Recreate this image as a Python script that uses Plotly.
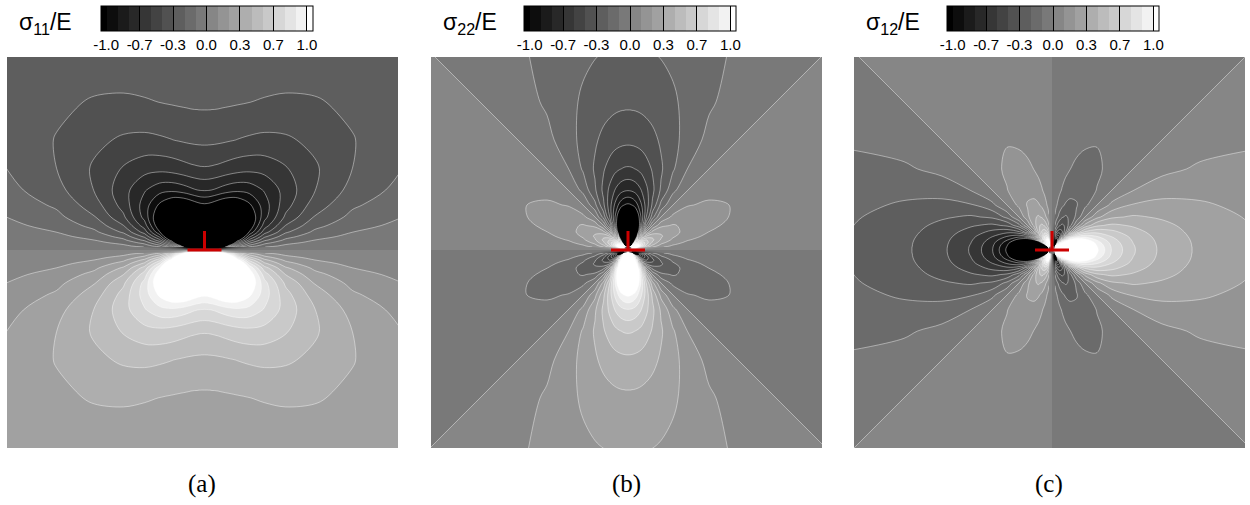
import plotly.graph_objects as go

# Node offsets from the dislocation (image-scale units), estimated spacing
grid_offsets = [0, 3, 4, 5.5, 7.5, 10, 13.5, 18, 24.5, 33, 45, 60, 81, 110, 148, 200]

# Hand-estimated stress values for the upper-right quadrant (top row y=200 ... last row y=0)
sigma11_quadrant = [
 [-.230,-.230,-.230,-.230,-.230,-.231,-.231,-.232,-.233,-.236,-.240,-.246,-.253,-.259,-.254,-.230],
 [-.311,-.311,-.311,-.311,-.312,-.312,-.313,-.316,-.319,-.324,-.332,-.342,-.350,-.343,-.311,-.253],
 [-.418,-.418,-.419,-.419,-.420,-.421,-.424,-.428,-.436,-.447,-.460,-.470,-.461,-.418,-.339,-.245],
 [-.568,-.569,-.569,-.571,-.573,-.577,-.582,-.592,-.607,-.625,-.638,-.627,-.568,-.461,-.333,-.219],
 [-.767,-.769,-.770,-.773,-.779,-.786,-.800,-.820,-.844,-.862,-.846,-.767,-.623,-.450,-.295,-.181],
 [-1.022,-1.027,-1.030,-1.037,-1.048,-1.066,-1.093,-1.125,-1.149,-1.127,-1.022,-.830,-.600,-.393,-.241,-.141],
 [-1.39,-1.40,-1.41,-1.425,-1.45,-1.486,-1.5,-1.5,-1.5,-1.39,-1.129,-.816,-.535,-.327,-.191,-.109],
 [-1.5,-1.5,-1.5,-1.5,-1.5,-1.5,-1.5,-1.5,-1.5,-1.5,-1.104,-.724,-.443,-.259,-.147,-.082],
 [-1.5,-1.5,-1.5,-1.5,-1.5,-1.5,-1.5,-1.5,-1.5,-1.5,-.986,-.603,-.352,-.200,-.112,-.062],
 [-1.5,-1.5,-1.5,-1.5,-1.5,-1.5,-1.5,-1.5,-1.5,-1.313,-.803,-.469,-.267,-.149,-.083,-.046],
 [-1.5,-1.5,-1.5,-1.5,-1.5,-1.5,-1.5,-1.5,-1.5,-1.083,-.633,-.360,-.201,-.112,-.062,-.034],
 [-1.5,-1.5,-1.5,-1.5,-1.5,-1.5,-1.5,-1.5,-1.444,-.843,-.480,-.268,-.149,-.082,-.045,-.025],
 [-1.5,-1.5,-1.5,-1.5,-1.5,-1.5,-1.5,-1.5,-1.150,-.655,-.366,-.203,-.112,-.062,-.034,-.019],
 [-1.5,-1.5,-1.5,-1.5,-1.5,-1.5,-1.5,-1.5,-.900,-.504,-.279,-.154,-.085,-.047,-.026,-.014],
 [-1.5,-1.5,-1.5,-1.5,-1.5,-1.5,-1.5,-1.200,-.671,-.373,-.205,-.113,-.062,-.034,-.019,-.010],
 [0,0,0,0,0,0,0,0,0,0,0,0,0,0,0,0],
]

sigma22_quadrant = [
 [-.230,-.230,-.230,-.229,-.229,-.228,-.227,-.224,-.220,-.212,-.198,-.176,-.141,-.095,-.043,0],
 [-.311,-.311,-.310,-.310,-.309,-.307,-.303,-.297,-.287,-.268,-.238,-.191,-.128,-.058,0,.032],
 [-.418,-.417,-.416,-.415,-.412,-.408,-.400,-.385,-.360,-.319,-.257,-.173,-.079,0,.043,.052],
 [-.568,-.566,-.564,-.560,-.554,-.543,-.524,-.490,-.434,-.349,-.235,-.107,0,.059,.070,.058],
 [-.767,-.761,-.757,-.748,-.733,-.707,-.661,-.586,-.472,-.317,-.144,0,.079,.095,.078,.053],
 [-1.022,-1.008,-.997,-.977,-.942,-.881,-.781,-.629,-.422,-.192,0,.105,.127,.104,.071,.044],
 [-1.39,-1.356,-1.329,-1.282,-1.198,-1.062,-.855,-.574,-.261,0,.143,.172,.142,.096,.060,.035],
 [-1.5,-1.5,-1.5,-1.5,-1.436,-1.156,-.776,-.353,0,.194,.233,.192,.130,.081,.047,.027],
 [-1.5,-1.5,-1.5,-1.5,-1.5,-1.057,-.481,0,.264,.317,.261,.177,.110,.065,.037,.021],
 [-1.5,-1.5,-1.5,-1.5,-1.408,-.641,0,.351,.423,.348,.236,.146,.086,.049,.028,.015],
 [-1.5,-1.5,-1.5,-1.5,-.865,0,.474,.570,.469,.319,.197,.116,.066,.037,.020,.011],
 [-1.5,-1.5,-1.5,-1.152,0,.631,.760,.625,.425,.263,.154,.088,.050,.027,.015,.008],
 [-1.5,-1.5,-1.5,0,.861,1.037,.853,.579,.359,.211,.120,.068,.037,.021,.011,.006],
 [-1.5,-1.5,0,1.185,1.426,1.173,.797,.493,.290,.164,.093,.051,.028,.016,.009,.005],
 [-1.5,0,1.5,1.5,1.5,1.062,.658,.386,.219,.124,.068,.038,.021,.011,.006,.003],
 [0,0,0,0,0,0,0,0,0,0,0,0,0,0,0,0],
]

sigma12_quadrant = [
 [0,-.003,-.005,-.006,-.008,-.011,-.015,-.020,-.027,-.035,-.044,-.053,-.058,-.052,-.032,0],
 [0,-.006,-.008,-.011,-.015,-.021,-.027,-.036,-.047,-.060,-.072,-.078,-.070,-.043,0,.043],
 [0,-.011,-.015,-.021,-.028,-.037,-.049,-.064,-.080,-.096,-.105,-.095,-.058,0,.058,.095],
 [0,-.021,-.028,-.038,-.050,-.066,-.086,-.109,-.131,-.142,-.129,-.079,0,.079,.129,.142],
 [0,-.038,-.051,-.068,-.090,-.117,-.147,-.176,-.192,-.174,-.107,0,.107,.174,.192,.176],
 [0,-.068,-.090,-.120,-.155,-.196,-.235,-.256,-.232,-.142,0,.142,.232,.256,.235,.196],
 [0,-.123,-.163,-.211,-.267,-.320,-.348,-.315,-.193,0,.193,.315,.348,.320,.267,.211],
 [0,-.220,-.286,-.361,-.432,-.470,-.426,-.261,0,.261,.426,.470,.432,.361,.287,.220],
 [0,-.389,-.492,-.589,-.640,-.580,-.356,0,.364,.582,.638,.586,.490,.385,.297,.224],
 [0,-.655,-.784,-.853,-.773,-.474,0,.474,.773,.855,.781,.661,.524,.399,.303,.227],
 [0,-1.058,-1.15,-1.042,-.639,0,.639,1.042,1.15,1.062,.881,.707,.543,.408,.307,.228],
 [0,-1.5,-1.389,-.852,0,.852,1.389,1.5,1.41,1.198,.942,.733,.554,.412,.309,.229],
 [0,-1.5,-1.162,0,1.162,1.5,1.5,1.5,1.5,1.282,.977,.748,.560,.415,.310,.229],
 [0,-1.5,0,1.5,1.5,1.5,1.5,1.5,1.5,1.329,.997,.757,.564,.416,.310,.230],
 [0,0,1.5,1.5,1.5,1.5,1.5,1.5,1.5,1.356,1.008,.761,.566,.417,.311,.230],
 [0,1.5,1.5,1.5,1.5,1.5,1.5,1.5,1.5,1.394,1.022,.767,.568,.418,.311,.230],
]

tick_values = [-1, -2/3, -1/3, 0, 1/3, 2/3, 1]
tick_labels = ["-1.0", "-0.7", "-0.3", "0.0", "0.3", "0.7", "1.0"]
panel_titles = ["σ<sub>11</sub>/E", "σ<sub>22</sub>/E", "σ<sub>12</sub>/E"]
panel_captions = ["(a)", "(b)", "(c)"]
core_x = [-17, 17]
core_y = [0, 0]
stem_x = [0, 0]
stem_y = [0, 19]

W, H = 1250, 505
panel_left = [7, 431, 854]
panel_size = 391
panel_top = 57
centers = [204.5, 628, 1052]
center_y = 250
bar_left = [100.5, 524, 947]
title_x = [17, 441, 864]
caption_x = [202, 626, 1049]

axis_coords = [-v for v in grid_offsets[:0:-1]] + grid_offsets


def full(q, sx, sy):
    def row(r, s):
        vals = [s * v for v in r]
        return [sx * v for v in vals[:0:-1]] + vals
    upper = q[:-1]
    axis = q[-1]
    return [row(r, sy) for r in upper] + [row(axis, 1)] + [row(r, 1) for r in upper[::-1]]


CS = [[0, "rgb(0,0,0)"], [1, "rgb(255,255,255)"]]
LEVELS = dict(start=-1, end=1.0001, size=1/9)
LINE = "rgba(255,255,255,0.42)"

fig = go.Figure()
panels = [(sigma11_quadrant, 1, -1), (sigma22_quadrant, 1, -1), (sigma12_quadrant, -1, 1)]
annotations = []
layout_axes = {}
n = len(axis_coords)
mid = n // 2

for p, (q, sx, sy) in enumerate(panels):
    suffix = "" if p == 0 else str(p + 1)
    xa, ya = "x" + suffix, "y" + suffix
    z = full(q, sx, sy)
    fig.add_trace(go.Contour(
        x=axis_coords, y=axis_coords, z=z, xaxis=xa, yaxis=ya,
        autocontour=False, contours=dict(coloring="fill", showlines=False, **LEVELS),
        line=dict(width=0), colorscale=CS, hoverinfo="skip",
        colorbar=dict(orientation="h", lenmode="pixels", len=211.5, thicknessmode="pixels",
                      thickness=25, x=bar_left[p] / W, xanchor="left", y=1 - 6 / H, yanchor="top",
                      xpad=0, ypad=0, tickmode="array", tickvals=tick_values, ticktext=tick_labels,
                      ticks="inside", ticklen=25, tickcolor="black", tickwidth=1,
                      outlinecolor="black", outlinewidth=1, borderwidth=0,
                      tickfont=dict(family="Liberation Sans", size=15, color="black")),
    ))
    if sy == -1:
        parts = [(axis_coords, axis_coords[:mid], z[:mid]), (axis_coords, axis_coords[mid + 1:], z[mid + 1:])]
    else:
        parts = [(axis_coords[:mid], axis_coords, [r[:mid] for r in z]),
                 (axis_coords[mid + 1:], axis_coords, [r[mid + 1:] for r in z])]
    for px, py, pz in parts:
        fig.add_trace(go.Contour(
            x=px, y=py, z=pz, xaxis=xa, yaxis=ya, autocontour=False, showscale=False,
            contours=dict(coloring="none", **LEVELS), line=dict(color=LINE, width=1),
            hoverinfo="skip",
        ))
    for tx, ty in ((core_x, core_y), (stem_x, stem_y)):
        fig.add_trace(go.Scatter(x=tx, y=ty, xaxis=xa, yaxis=ya, mode="lines", hoverinfo="skip",
                                 showlegend=False, line=dict(color="#cc0000", width=3)))
    x0 = panel_left[p]
    cx, cy = centers[p], center_y
    layout_axes["xaxis" + suffix] = dict(
        domain=[x0 / W, (x0 + panel_size) / W], range=[x0 - cx, x0 + panel_size - cx],
        visible=False, anchor=ya, fixedrange=True)
    layout_axes["yaxis" + suffix] = dict(
        domain=[1 - (panel_top + panel_size) / H, 1 - panel_top / H],
        range=[cy - panel_top - panel_size, cy - panel_top],
        visible=False, anchor=xa, fixedrange=True)
    annotations.append(dict(text=panel_titles[p], xref="paper", yref="paper", x=title_x[p] / W,
                            y=1 - 23 / H, xanchor="left", yanchor="middle", showarrow=False,
                            font=dict(family="Liberation Sans", size=23, color="black")))
    annotations.append(dict(text=panel_captions[p], xref="paper", yref="paper", x=caption_x[p] / W,
                            y=1 - 484 / H, xanchor="center", yanchor="middle", showarrow=False,
                            font=dict(family="Liberation Serif", size=25, color="black")))

fig.update_layout(width=W, height=H, margin=dict(l=0, r=0, t=0, b=0, autoexpand=False),
                  paper_bgcolor="white", plot_bgcolor="white", showlegend=False,
                  annotations=annotations, **layout_axes)
fig.write_html("out.html", config=dict(displayModeBar=False),
               post_script="document.body.style.margin='0';document.body.style.overflow='hidden';")
